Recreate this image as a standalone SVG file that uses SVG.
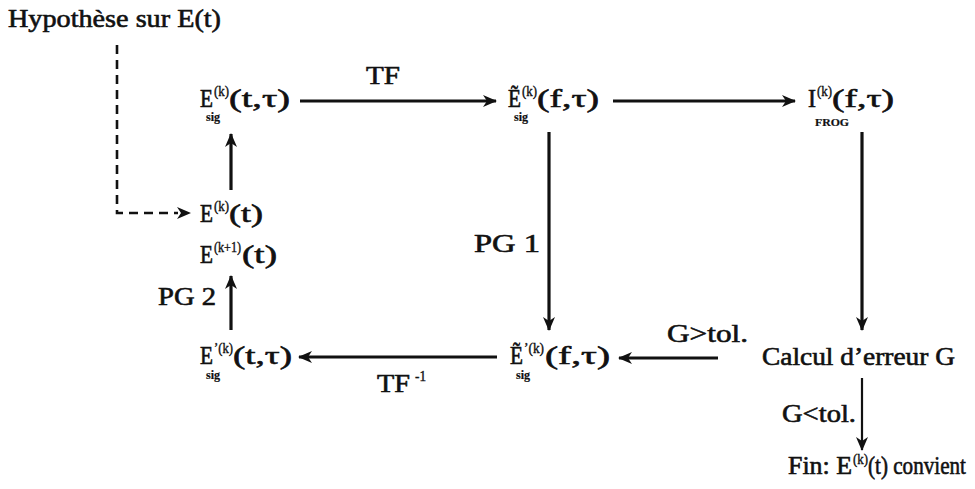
<svg xmlns="http://www.w3.org/2000/svg" width="975" height="489" viewBox="0 0 975 489">
<style>
text{font-family:"Liberation Serif","Times New Roman",serif;fill:#111;stroke:#111;stroke-width:0.6px;}
.m{font-size:25px;}
.sup{font-size:15px;stroke-width:0.4px;}
.sub{font-size:12px;font-weight:bold;stroke-width:0.2px;}
.c{stroke:#111;fill:none;stroke-width:3.2;}
.t{stroke:#111;fill:none;stroke-width:2.2;}
.d{stroke:#111;fill:none;stroke-width:2.6;stroke-dasharray:9 6;}
</style>
<defs>
<marker id="ah" viewBox="0 0 14 12" refX="13" refY="6" markerWidth="14" markerHeight="12" markerUnits="userSpaceOnUse" orient="auto">
<path d="M0,0 L14,6 L0,12 L4,6 Z" fill="#111"/>
</marker>
</defs>
<rect width="975" height="489" fill="#fff"/>

<g id="hyp">
<text class="m" x="8" y="27" textLength="213" lengthAdjust="spacingAndGlyphs">Hypothèse sur E(t)</text>
</g>

<g id="esig">
<text class="m" x="200" y="107" textLength="13" lengthAdjust="spacingAndGlyphs">E</text>
<text class="sup" x="214" y="96" textLength="15" lengthAdjust="spacingAndGlyphs">(k)</text>
<text class="m" x="229" y="107" textLength="61" lengthAdjust="spacingAndGlyphs">(t,τ)</text>
<text class="sub" x="206" y="121" textLength="14" lengthAdjust="spacingAndGlyphs">sig</text>
</g>

<g id="etsig">
<text class="m" x="508" y="107" textLength="13" lengthAdjust="spacingAndGlyphs">Ẽ</text>
<text class="sup" x="522" y="96" textLength="15" lengthAdjust="spacingAndGlyphs">(k)</text>
<text class="m" x="537" y="107" textLength="62" lengthAdjust="spacingAndGlyphs">(f,τ)</text>
<text class="sub" x="514" y="121" textLength="14" lengthAdjust="spacingAndGlyphs">sig</text>
</g>

<g id="ifrog">
<text class="m" x="808" y="107" textLength="8" lengthAdjust="spacingAndGlyphs">I</text>
<text class="sup" x="817" y="96" textLength="15" lengthAdjust="spacingAndGlyphs">(k)</text>
<text class="m" x="832" y="107" textLength="62" lengthAdjust="spacingAndGlyphs">(f,τ)</text>
<text class="sub" x="815" y="126" textLength="34" lengthAdjust="spacingAndGlyphs" style="font-size:10px">FROG</text>
</g>

<g id="ek">
<text class="m" x="200" y="222" textLength="13" lengthAdjust="spacingAndGlyphs">E</text>
<text class="sup" x="214" y="211" textLength="15" lengthAdjust="spacingAndGlyphs">(k)</text>
<text class="m" x="229" y="222" textLength="34" lengthAdjust="spacingAndGlyphs">(t)</text>
</g>

<g id="ek1">
<text class="m" x="200" y="263" textLength="13" lengthAdjust="spacingAndGlyphs">E</text>
<text class="sup" x="214" y="252" textLength="27" lengthAdjust="spacingAndGlyphs">(k+1)</text>
<text class="m" x="242" y="263" textLength="35" lengthAdjust="spacingAndGlyphs">(t)</text>
</g>

<g id="eprsig">
<text class="m" x="200" y="364" textLength="13" lengthAdjust="spacingAndGlyphs">E</text>
<text class="sup" x="214" y="353" textLength="19" lengthAdjust="spacingAndGlyphs">’(k)</text>
<text class="m" x="233" y="364" textLength="59" lengthAdjust="spacingAndGlyphs">(t,τ)</text>
<text class="sub" x="206" y="379" textLength="14" lengthAdjust="spacingAndGlyphs">sig</text>
</g>

<g id="etprsig">
<text class="m" x="510" y="364" textLength="13" lengthAdjust="spacingAndGlyphs">Ẽ</text>
<text class="sup" x="524" y="353" textLength="20" lengthAdjust="spacingAndGlyphs">’(k)</text>
<text class="m" x="545" y="364" textLength="65" lengthAdjust="spacingAndGlyphs">(f,τ)</text>
<text class="sub" x="516" y="379" textLength="14" lengthAdjust="spacingAndGlyphs">sig</text>
</g>

<g id="calc">
<text class="m" x="762" y="365" textLength="193" lengthAdjust="spacingAndGlyphs">Calcul d’erreur G</text>
</g>

<g id="fin">
<text class="m" x="788" y="474" textLength="64" lengthAdjust="spacingAndGlyphs">Fin: E</text>
<text class="sup" x="853" y="464" textLength="15" lengthAdjust="spacingAndGlyphs">(k)</text>
<text class="m" x="868" y="474" textLength="98" lengthAdjust="spacingAndGlyphs">(t) convient</text>
</g>

<g id="connectors">
<path class="d" d="M117,45 V213 H178"/>
<path d="M177,207 L191,213 L177,219 L181,213 Z" fill="#111"/>
<line class="c" x1="300" y1="101" x2="496" y2="101" marker-end="url(#ah)"/>
<line class="c" x1="613" y1="101" x2="795" y2="101" marker-end="url(#ah)"/>
<line class="c" x1="549" y1="132" x2="549" y2="330" marker-end="url(#ah)"/>
<line class="c" x1="862" y1="132" x2="862" y2="330" marker-end="url(#ah)"/>
<line class="c" x1="718" y1="358" x2="619" y2="358" marker-end="url(#ah)"/>
<line class="c" x1="497" y1="357" x2="299" y2="357" marker-end="url(#ah)"/>
<line class="c" x1="231" y1="190" x2="231" y2="134" marker-end="url(#ah)"/>
<line class="c" x1="231" y1="330" x2="231" y2="276" marker-end="url(#ah)"/>
<line class="t" x1="862" y1="378" x2="862" y2="450" marker-end="url(#ah)"/>
<text class="m" x="366" y="84" textLength="34" lengthAdjust="spacingAndGlyphs">TF</text>
<text class="m" x="377" y="392" textLength="33" lengthAdjust="spacingAndGlyphs">TF</text>
<text class="sup" x="415" y="381" textLength="11" lengthAdjust="spacingAndGlyphs">-1</text>
<text class="m" x="474" y="252" textLength="66" lengthAdjust="spacingAndGlyphs">PG 1</text>
<text class="m" x="158" y="305" textLength="58" lengthAdjust="spacingAndGlyphs">PG 2</text>
<text class="m" x="667" y="342" textLength="81" lengthAdjust="spacingAndGlyphs">G&gt;tol.</text>
<text class="m" x="782" y="422" textLength="74" lengthAdjust="spacingAndGlyphs">G&lt;tol.</text>
</g>
</svg>
